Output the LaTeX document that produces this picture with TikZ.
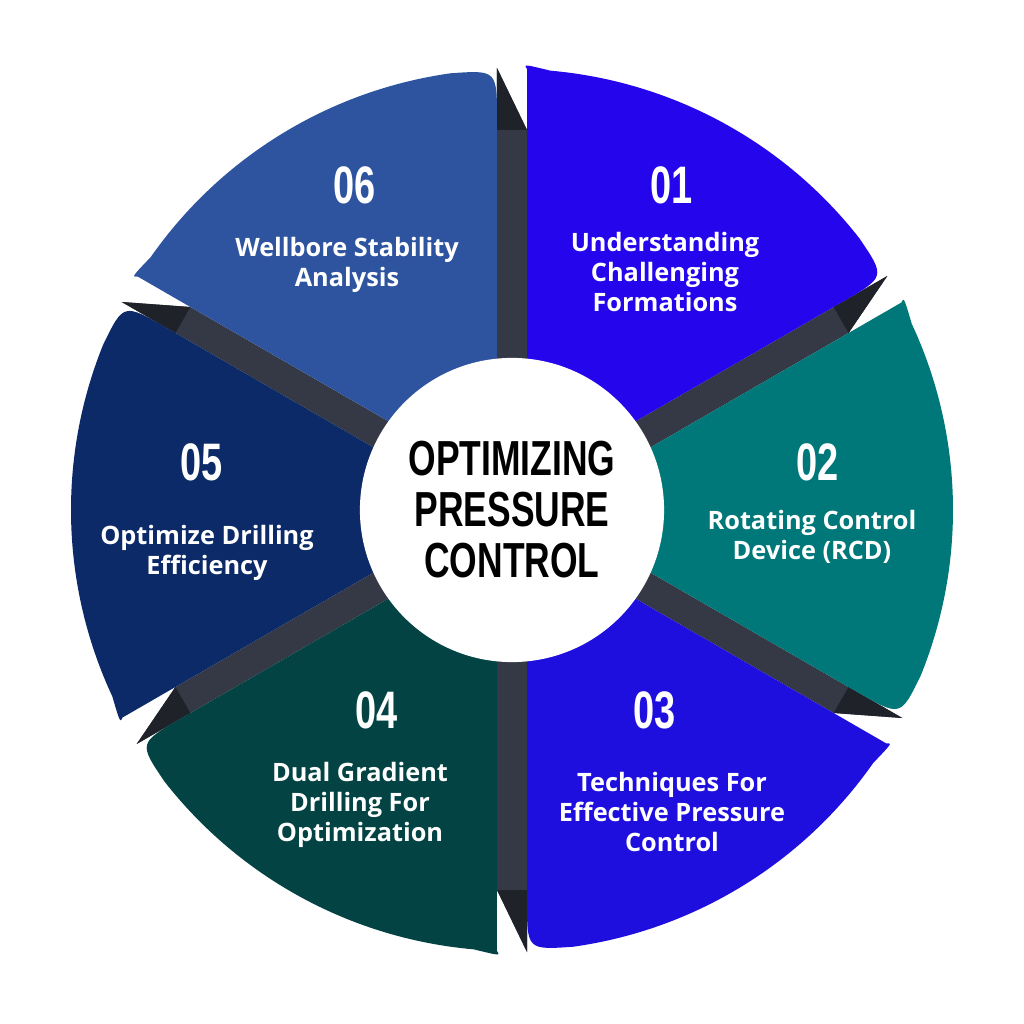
\documentclass[tikz,border=0pt]{standalone}
\usepackage{fontspec}
\setmainfont{Open Sans}
\newfontfamily\numfont{Liberation Sans}
\definecolor{segA}{HTML}{2405EC}
\definecolor{segB}{HTML}{00787A}
\definecolor{segC}{HTML}{1E0FDF}
\definecolor{segD}{HTML}{034343}
\definecolor{segE}{HTML}{0C2A68}
\definecolor{segF}{HTML}{2E549F}
\definecolor{foldcol}{HTML}{353945}
\newcommand{\bignum}[1]{\scalebox{0.72}[1]{\numfont\bfseries #1}}
\begin{document}
\begin{tikzpicture}[x=0.01cm,y=0.01cm,
seglabel/.style={text=white,font=\bfseries\fontsize{7.2pt}{8.6pt}\selectfont,align=center},
segnum/.style={text=white,font=\fontsize{15pt}{15pt}\selectfont},
hub/.style={circle,fill=white,minimum size=3.04cm,inner sep=0pt,align=center,font=\fontsize{14pt}{15.5pt}\selectfont}]
\useasboundingbox[fill=white] (-512,-514) rectangle (512,510);
% folds between segments
\foreach \a in {90,30,-30,-90,-150,150}{
  \fill[foldcol,rotate=\a] (0,-15) -- (380,-15) -- (442,15) -- (0,15) -- cycle;
  \fill[foldcol!60!black,rotate=\a] (380,-15) -- (442,15) -- (380,15) -- cycle;
}
% segments
\foreach \a/\c in {90/segA,30/segB,-30/segC,-90/segD,-150/segE,150/segF}{
  \fill[\c,rotate=\a-60] (26,15) -- (390,15) .. controls (440,15) .. (8:441)
    arc[start angle=8,end angle=55,radius=441]
    .. controls (58.5:446) .. (233.5,374.4) -- cycle;
}
\node[hub] (hub) at (0,0) {\bignum{OPTIMIZING}\\[-1pt]\bignum{PRESSURE}\\[-1pt]\bignum{CONTROL}};
% numbers and labels
\node[segnum] (n1) at (160,325) {\bignum{01}};
\node[seglabel] (l1) at (153,238) {Understanding\\Challenging\\Formations};
\node[segnum] (n2) at (306,48) {\bignum{02}};
\node[seglabel] (l2) at (300,-27) {Rotating Control\\Device (RCD)};
\node[segnum] (n3) at (143,-200) {\bignum{03}};
\node[seglabel] (l3) at (160,-302) {Techniques For\\Effective Pressure\\Control};
\node[segnum] (n4) at (-135,-200) {\bignum{04}};
\node[seglabel] (l4) at (-152,-295) {Dual Gradient\\Drilling For\\Optimization};
\node[segnum] (n5) at (-310,48) {\bignum{05}};
\node[seglabel] (l5) at (-305,-43) {Optimize Drilling\\Efficiency};
\node[segnum] (n6) at (-157,325) {\bignum{06}};
\node[seglabel] (l6) at (-165,245) {Wellbore Stability\\Analysis};
\end{tikzpicture}
\end{document}
